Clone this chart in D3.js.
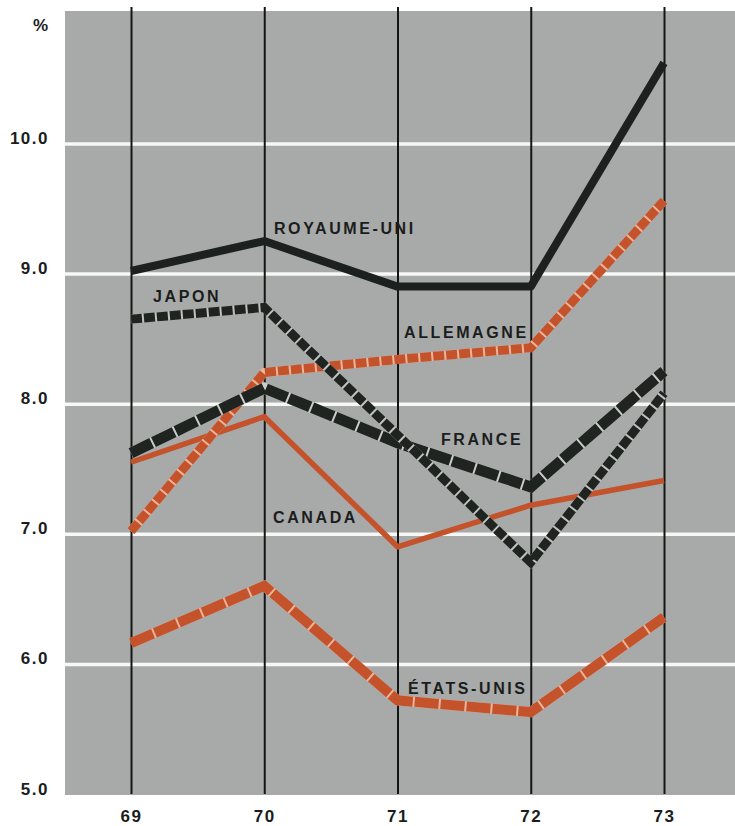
<!DOCTYPE html>
<html>
<head>
<meta charset="utf-8">
<script src="https://cdn.jsdelivr.net/npm/d3@7"></script>
<style>
  html, body { margin: 0; padding: 0; background: #ffffff; }
  svg { display: block; }
  text { font-family: "Liberation Sans", Arial, Helvetica, sans-serif; font-weight: bold; fill: #1b1d1c; }
</style>
</head>
<body>
<svg id="chart" width="735" height="826"></svg>
<script>
// ---- data ----
const years = [69, 70, 71, 72, 73];
const yTicks = [5, 6, 7, 8, 9, 10];
const royaumeUni = [9.02, 9.25, 8.9, 8.9, 10.62];
const japon      = [8.65, 8.74, 7.76, 6.78, 8.08];
const france     = [7.62, 8.12, 7.7, 7.36, 8.25];
const allemagne  = [7.02, 8.24, 8.34, 8.43, 9.56];
const canada     = [7.55, 7.9, 6.9, 7.22, 7.41];
const etatsUnis  = [6.16, 6.6, 5.72, 5.63, 6.36];

const seriesNames = ["CANADA", "ÉTATS-UNIS", "ALLEMAGNE", "FRANCE", "JAPON", "ROYAUME-UNI"];
const seriesValues = [canada, etatsUnis, allemagne, france, japon, royaumeUni];
// label anchor positions (year, value) for the inline names
const labelYears  = [70.066, 71.079, 71.049, 71.326, 69.165, 70.073];
const labelValues = [7.083, 5.769, 8.505, 7.683, 8.782, 9.304];

// ---- styles ----
const styles = {
  "CANADA":      { color: "#c4522b", width: 5.5, dash: null },
  "ÉTATS-UNIS":  { color: "#c4522b", width: 10,  dash: "24,2", gap: "#eab49c" },
  "ALLEMAGNE":   { color: "#c4522b", width: 9,   dash: "11,2", gap: "#eab49c" },
  "FRANCE":      { color: "#1f2421", width: 11,  dash: "23,2", gap: "#c9ccca" },
  "JAPON":       { color: "#1f2421", width: 9,   dash: "11,2", gap: "#bfc2c0" },
  "ROYAUME-UNI": { color: "#1c201e", width: 8,   dash: null }
};

const svg = d3.select("#chart");
const plotLeft = 65, plotRight = 735, plotTop = 11, plotBottom = 795;

const x = d3.scaleLinear().domain([69, 73]).range([131, 664]);
const y = d3.scaleLinear().domain([5, 10]).range([794, 143.5]);

// background
svg.append("rect")
  .attr("x", plotLeft).attr("y", plotTop)
  .attr("width", plotRight - plotLeft).attr("height", plotBottom - plotTop)
  .attr("fill", "#a8aaa9");

// horizontal gridlines via axis
const yAxis = d3.axisLeft(y).tickValues(yTicks)
  .tickFormat(d3.format(".1f"))
  .tickSizeInner(-(plotRight - plotLeft)).tickSizeOuter(0).tickPadding(15);
const gy = svg.append("g").attr("transform", `translate(${plotLeft},0)`).call(yAxis);
gy.select(".domain").remove();
gy.selectAll(".tick line")
  .attr("stroke", d => d === 5 ? "none" : "#f7f7f5")
  .attr("stroke-width", 3.5);
gy.selectAll(".tick text")
  .attr("dy", 0).attr("x", -16)
  .style("font-size", "17px").style("letter-spacing", "1.5px")
  .attr("fill", "#1b1d1c");

svg.append("text").attr("x", 48).attr("y", 31).attr("text-anchor", "end")
  .style("font-size", "17px").text("%");

// vertical lines + x labels via axis
const xAxis = d3.axisBottom(x).tickValues(years).tickFormat(d => d)
  .tickSizeInner(-(794 - 7)).tickSizeOuter(0).tickPadding(28);
const gx = svg.append("g").attr("transform", "translate(0,794)").call(xAxis);
gx.select(".domain").remove();
gx.selectAll(".tick line").attr("stroke", "#141615").attr("stroke-width", 2);
gx.selectAll(".tick text").attr("dy", 0)
  .style("font-size", "17px").style("letter-spacing", "1.5px")
  .attr("fill", "#1b1d1c");

// series lines
const line = d3.line().x((d, i) => x(years[i])).y(d => y(d));
seriesNames.forEach((name, k) => {
  const s = styles[name];
  const vals = seriesValues[k];
  if (s.dash) {
    svg.append("path").attr("d", line(vals))
      .attr("fill", "none").attr("stroke", s.gap)
      .attr("stroke-width", s.width).attr("stroke-linejoin", "miter");
    svg.append("path").attr("d", line(vals))
      .attr("fill", "none").attr("stroke", s.color)
      .attr("stroke-width", s.width).attr("stroke-dasharray", s.dash)
      .attr("stroke-linejoin", "miter");
  } else {
    svg.append("path").attr("d", line(vals))
      .attr("fill", "none").attr("stroke", s.color)
      .attr("stroke-width", s.width).attr("stroke-linejoin", "round");
  }
});

// inline labels
seriesNames.forEach((name, k) => {
  svg.append("text")
    .attr("x", x(labelYears[k])).attr("y", y(labelValues[k]))
    .style("font-size", "16px").style("letter-spacing", "2.6px")
    .text(name);
});
</script>
</body>
</html>
